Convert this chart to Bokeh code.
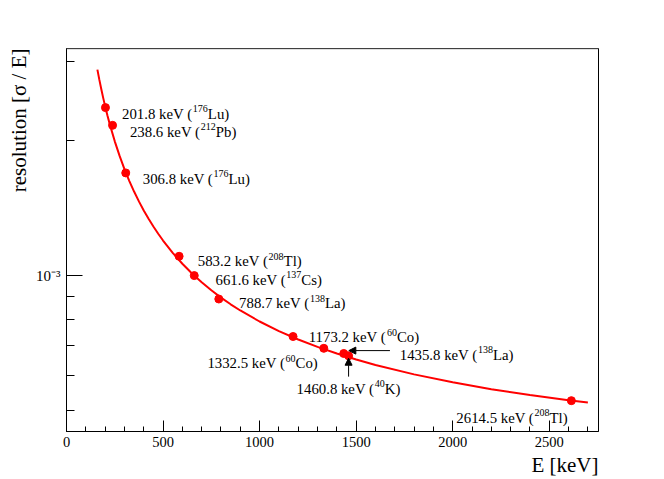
from bokeh.plotting import figure
from bokeh.models import (Range1d, FixedTicker, Label, Arrow, NormalHead, Span, Title)
from bokeh.embed import file_html
from bokeh.resources import INLINE

# ---- data ----
energy = [201.8, 238.6, 306.8, 583.2, 661.6, 788.7, 1173.2, 1332.5, 1435.8, 1460.8, 2614.5]
resolution = [2.364e-3, 2.159e-3, 1.692e-3, 1.104e-3, 1.000e-3, 8.87e-4,
              7.32e-4, 6.89e-4, 6.71e-4, 6.63e-4, 5.27e-4]
iso_mass = ["176", "212", "176", "208", "137", "138", "60", "60", "138", "40", "208"]
iso_name = ["Lu", "Pb", "Lu", "Tl", "Cs", "La", "Co", "Co", "La", "K", "Tl"]

# fitted curve
fit_energy = [160, 170, 180, 190, 200, 212, 225, 250, 275, 300, 325, 350, 375, 400, 425,
              450, 475, 500, 550, 600, 650, 700, 750, 800, 850, 900, 1000, 1100, 1200,
              1300, 1400, 1500, 1600, 1800, 2000, 2200, 2400, 2600, 2700]
fit_resolution = [2.872e-3, 2.728e-3, 2.600e-3, 2.485e-3, 2.382e-3, 2.271e-3, 2.164e-3,
                  1.989e-3, 1.846e-3, 1.726e-3, 1.625e-3, 1.538e-3, 1.4625e-3, 1.396e-3,
                  1.3377e-3, 1.2855e-3, 1.2389e-3, 1.1967e-3, 1.1237e-3, 1.0627e-3,
                  1.0109e-3, 9.663e-4, 9.275e-4, 8.934e-4, 8.633e-4, 8.364e-4, 7.905e-4,
                  7.527e-4, 7.210e-4, 6.941e-4, 6.708e-4, 6.506e-4, 6.328e-4, 6.029e-4,
                  5.789e-4, 5.590e-4, 5.424e-4, 5.282e-4, 5.218e-4]

x_ticks = [0, 500, 1000, 1500, 2000, 2500]
x_minor_ticks = [0, 100, 200, 300, 400, 500, 600, 700, 800, 900, 1000, 1100, 1200, 1300,
                 1400, 1500, 1600, 1700, 1800, 1900, 2000, 2100, 2200, 2300, 2400, 2500,
                 2600, 2700]
y_ticks = [1e-3]
y_tick_labels = {1e-3: "10\u207b\u00b3"}
y_minor_ticks = [5e-4, 6e-4, 7e-4, 8e-4, 9e-4, 2e-3, 3e-3]

x_title = "E [keV]"
y_title = "resolution [σ / E]"

# ---- label placement (pixels, relative to each point; y up) ----
label_dx = [16.6, 17.4, 17.0, 18.7, 21.3, 20.3, 15.7, -116.4, 56.0, -52.0, -115.0]
label_dy = [-6.3, -6.3, -5.7, -5.0, -4.3, -4.0, -0.8, -15.0, -1.3, -33.0, -17.3]

# arrows (data coordinates of start/end)
arrow_la = (1675, 6.81e-4, 1462, 6.81e-4)
arrow_k = (1460.8, 5.96e-4, 1460.8, 6.55e-4)

X_MAX = 2755
Y_MIN, Y_MAX = 4.5e-4, 3.2e-3

FONT = "Liberation Serif"
MAIN = 14.8
SUP = 10.0
CHAR_W = {'0': 500, '1': 500, '2': 500, '3': 500, '4': 500, '5': 500, '6': 500, '7': 500,
          '8': 500, '9': 500, '.': 250, ' ': 250, 'k': 500, 'e': 444, 'V': 722, '(': 333}


def text_width(s, size):
    return sum(CHAR_W.get(c, 500) for c in s) / 1000.0 * size


p = figure(width=664, height=479, x_range=Range1d(0, X_MAX), y_range=Range1d(Y_MIN, Y_MAX),
           y_axis_type="log", output_backend="svg", toolbar_location=None,
           min_border_left=66, min_border_right=66, min_border_top=48, min_border_bottom=48)
p.background_fill_color = "white"
p.border_fill_color = "white"
p.outline_line_color = "black"
p.xgrid.visible = False
p.ygrid.visible = False

# x axis
xa = p.xaxis[0]
xa.ticker = FixedTicker(ticks=x_ticks, minor_ticks=x_minor_ticks)
xa.major_tick_in = 11
xa.major_tick_out = 0
xa.minor_tick_in = 5
xa.minor_tick_out = 0
xa.axis_line_color = "black"
xa.major_tick_line_color = "black"
xa.minor_tick_line_color = "black"
xa.major_label_text_font = FONT
xa.major_label_text_font_size = "14.5px"
xa.major_label_text_color = "black"
xa.major_label_standoff = 5

# y axis
ya = p.yaxis[0]
ya.ticker = FixedTicker(ticks=y_ticks, minor_ticks=y_minor_ticks)
ya.major_tick_in = 16
ya.major_tick_out = 0
ya.minor_tick_in = 8
ya.minor_tick_out = 0
ya.axis_line_color = "black"
ya.major_tick_line_color = "black"
ya.minor_tick_line_color = "black"
ya.major_label_overrides = y_tick_labels
ya.major_label_text_font = FONT
ya.major_label_text_font_size = "15px"
ya.major_label_text_color = "black"
ya.major_label_standoff = 6

# axis titles, right/top aligned as in the reference
p.add_layout(Title(text=x_title, align="right", text_font=FONT, text_font_size="21px",
                   text_font_style="normal", text_color="black", standoff=3), "below")
p.add_layout(Title(text=y_title, align="right", text_font=FONT, text_font_size="21px",
                   text_font_style="normal", text_color="black", standoff=6), "left")

# grey top edge of the frame
p.add_layout(Span(location=Y_MAX, dimension="width", line_color="#808080", line_width=1.5))

# fit curve and points
p.line(fit_energy, fit_resolution, line_color="red", line_width=2)
p.scatter(energy, resolution, size=8, fill_color="red", line_color="red")


def add_text(x, y, text, xo, yo, size, align="left"):
    p.add_layout(Label(x=x, y=y, text=text, x_offset=xo, y_offset=yo, text_align=align,
                       text_baseline="alphabetic", text_font=FONT,
                       text_font_size=f"{size}px", text_color="black"))


# point labels: prefix, superscript mass number, suffix
for e, r, m, n, dx, dy in zip(energy, resolution, iso_mass, iso_name, label_dx, label_dy):
    pre = f"{e} keV ("
    sdx = dx + text_width(pre, MAIN) + 0.5
    fdx = sdx + len(m) * 0.5 * SUP
    add_text(e, r, pre, dx, dy, MAIN)
    add_text(e, r, m, sdx, dy + 5, SUP)
    add_text(e, r, n + ")", fdx, dy, MAIN)

for (xs, ys, xe, ye) in (arrow_la, arrow_k):
    p.add_layout(Arrow(end=NormalHead(size=7, fill_color="black", line_color="black",
                                      line_width=1),
                       x_start=xs, y_start=ys, x_end=xe, y_end=ye,
                       line_color="black", line_width=1))

open("out.html", "w").write(file_html(p, INLINE))
